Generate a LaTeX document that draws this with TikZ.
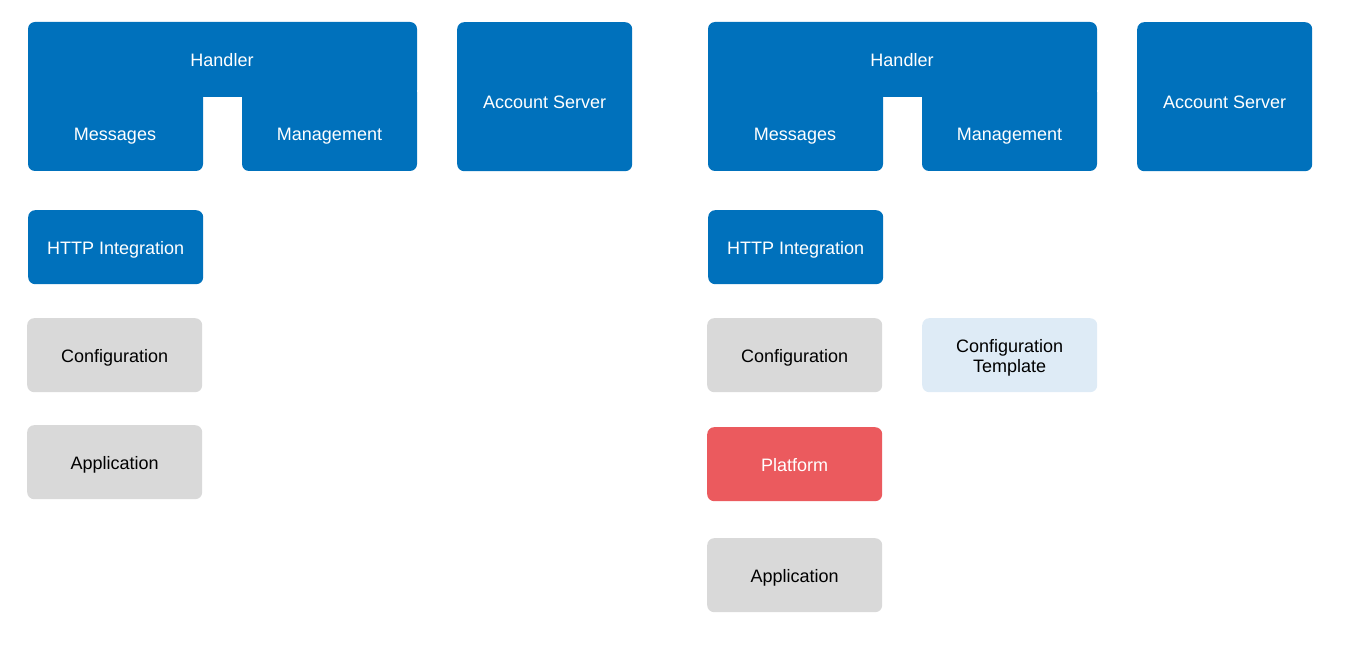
\documentclass[tikz,border=0pt]{standalone}
\usepackage{fontspec}
\setmainfont{Liberation Sans}
\definecolor{tblue}{HTML}{0071BC}
\definecolor{tgray}{HTML}{D9D9D9}
\definecolor{tlight}{HTML}{DEEBF6}
\definecolor{tred}{HTML}{EB5A5E}
\tikzset{
  txt/.style={inner sep=0pt, font=\fontsize{18}{20}\selectfont, align=center, text height=14pt, text depth=0pt},
  wtxt/.style={txt, text=white},
  box/.style={txt, rounded corners=7pt, minimum width=175pt, minimum height=74pt, anchor=north west},
  bluebox/.style={box, fill=tblue, text=white},
  graybox/.style={box, fill=tgray, text=black},
  lightbox/.style={box, fill=tlight, text=black},
  redbox/.style={box, fill=tred, text=white},
  shape fill/.style={fill=tblue, rounded corners=7pt},
}
\begin{document}
\begin{tikzpicture}[x=1pt, y=-1pt]
\useasboundingbox (0,0) rectangle (1357,655);
% ---- left panel ----
\path[shape fill] (28,22) rectangle (417,97);
\path[shape fill] (28,85) rectangle (203,171);
\path[shape fill] (242,85) rectangle (417,171);
\node[wtxt] (handlerA) at (222,60) {Handler};
\node[wtxt] (messagesA) at (115,133.5) {Messages};
\node[wtxt] (managementA) at (329.5,133.5) {Management};
\node[bluebox, minimum height=149pt, text height=23pt] (accountA) at (457,22) {Account Server};
\node[bluebox] (httpA) at (28,210) {HTTP Integration};
\node[graybox] (configA) at (27,318) {Configuration};
\node[graybox] (appA) at (27,425) {Application};
% ---- right panel ----
\path[shape fill] (708,22) rectangle (1097,97);
\path[shape fill] (708,85) rectangle (883,171);
\path[shape fill] (922,85) rectangle (1097,171);
\node[wtxt] (handlerB) at (902,60) {Handler};
\node[wtxt] (messagesB) at (795,133.5) {Messages};
\node[wtxt] (managementB) at (1009.5,133.5) {Management};
\node[bluebox, minimum height=149pt, text height=23pt] (accountB) at (1137,22) {Account Server};
\node[bluebox] (httpB) at (708,210) {HTTP Integration};
\node[graybox] (configB) at (707,318) {Configuration};
\node[lightbox, text height=35pt, text depth=0pt] (templateB) at (922,318) {Configuration\\Template};
\node[redbox] (platformB) at (707,427) {Platform};
\node[graybox] (appB) at (707,538) {Application};
\end{tikzpicture}
\end{document}
